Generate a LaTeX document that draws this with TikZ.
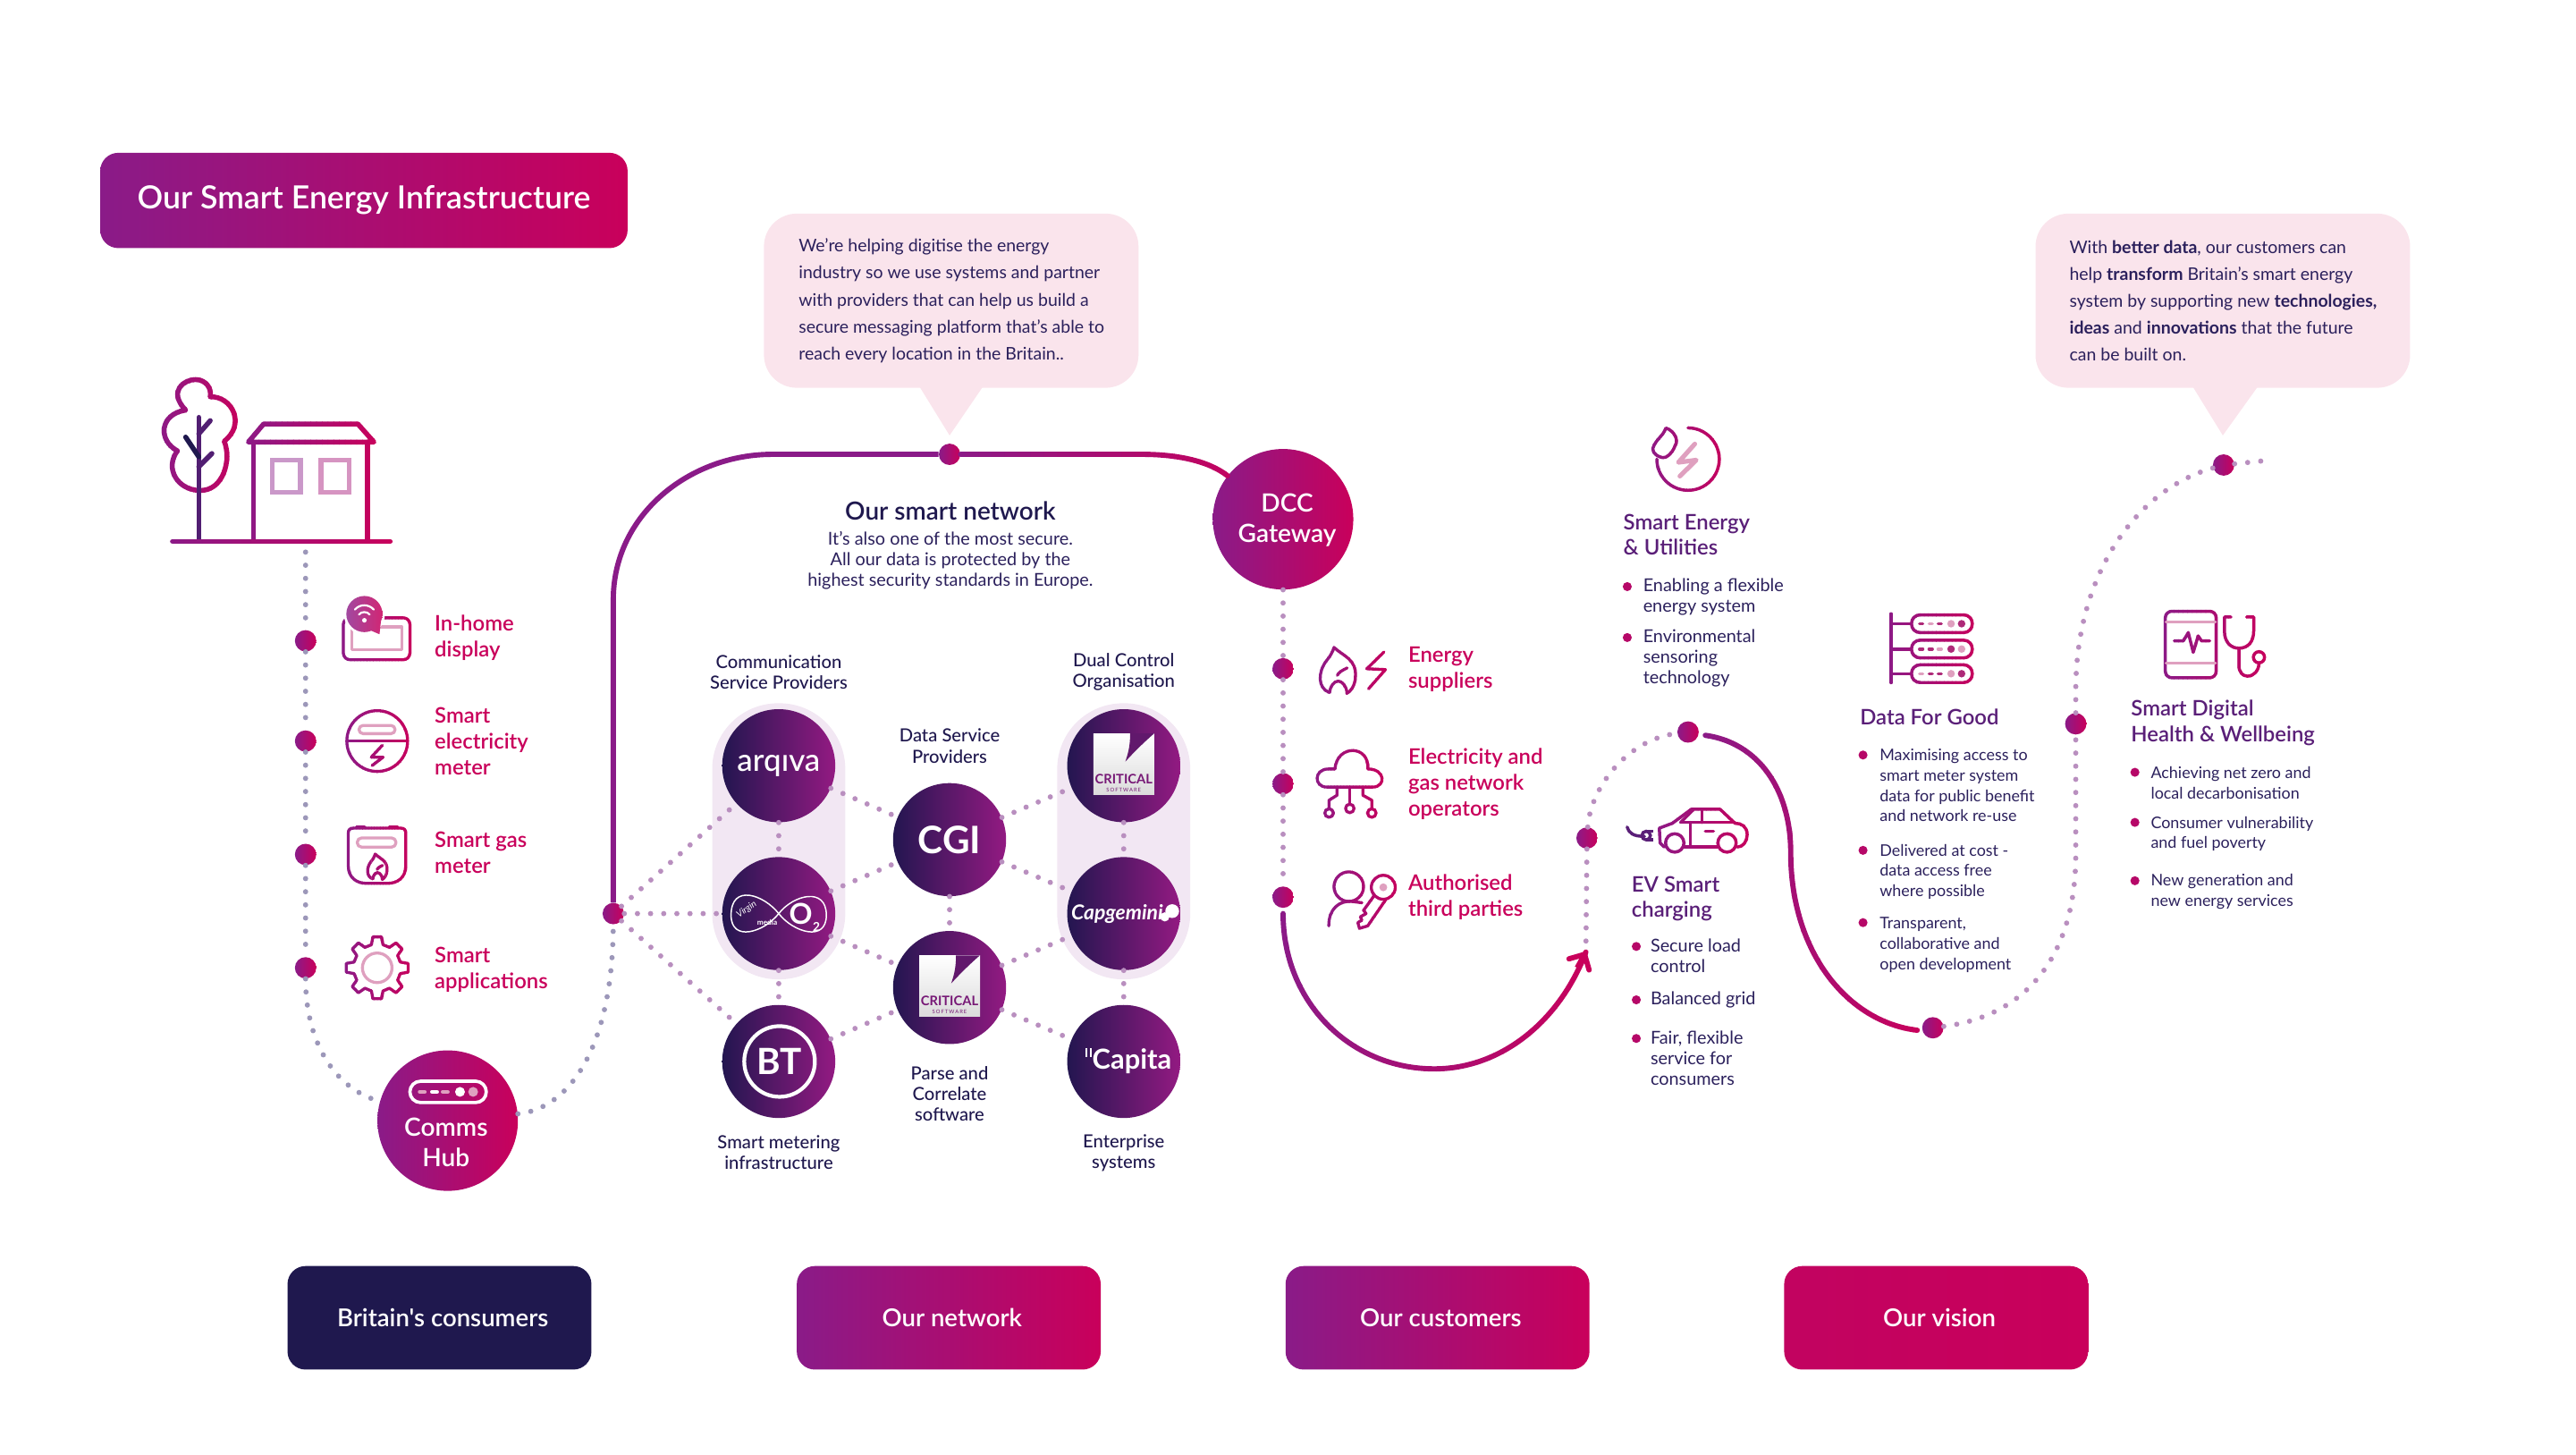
\documentclass[tikz,border=0pt]{standalone}
\usepackage{fontspec}
\setmainfont{Lato}
\newfontfamily\medfont{Lato Medium}
\newfontfamily\semifont{Lato Semibold}
\usetikzlibrary{arrows.meta}

\definecolor{gradA}{HTML}{8A1B88}
\definecolor{gradB}{HTML}{C9005B}
\definecolor{navy}{HTML}{1F184E}
\definecolor{bodyink}{HTML}{2B205C}
\definecolor{headink}{HTML}{5A1F78}
\definecolor{netdot}{HTML}{B98FBF}
\definecolor{hubdot}{HTML}{9C97B9}
\definecolor{talkpink}{HTML}{FAE4EC}
\definecolor{pilltint}{HTML}{F2E7F3}
\definecolor{logoA}{HTML}{231650}
\definecolor{logoB}{HTML}{931A82}
\definecolor{iconF}{HTML}{DFA0BF}
\definecolor{iconM}{HTML}{AE2A78}

% Stroke a path with a left-to-right colour ramp, one clipped band at a time
\newcommand{\gradpath}[4]{
  \foreach \b in {0,...,23} {
    \pgfmathsetmacro\bandl{#2+(#3-#2)*\b/24}
    \pgfmathsetmacro\bandr{#2+(#3-#2)*(\b+1)/24+.3}
    \pgfmathsetmacro\bandm{100*(\b+.5)/24}
    \begin{scope}
      \clip (\bandl,-1000) rectangle (\bandr,2000);
      \draw[line width=#1pt, line cap=round, line join=round, color=gradB!\bandm!gradA] #4;
    \end{scope}
  }
}
\newcommand{\iconrange}[3]{\def\iconW{#1}\def\iconL{#2}\def\iconR{#3}}
\newcommand{\iconpath}[1]{\gradpath{\iconW}{\iconL}{\iconR}{#1}}
\newcommand{\flameoutline}{
  \iconpath{(-4.7,13.5) .. controls (-12,11) and (-12,1) .. (-6.5,-6) .. controls (-4,-9) and (-3,-11) .. (-2,-14) .. controls (3,-9) and (12,-7) .. (11,4) .. controls (11,9) and (8,13) .. (5.8,14) .. controls (6,10) and (3,6.5) .. (0.5,6.5) .. controls (-2,6.5) and (-4.5,10) .. (-4.7,13.5)}
  \iconpath{(6,-1.5) .. controls (3,0) and (1,1) .. (0,3)}
}

\tikzset{
  gradfill/.style={left color=gradA, right color=gradB},
  pathdot/.style={circle, inner sep=0pt, minimum size=13pt, gradfill},
  bigdot/.style={circle, inner sep=0pt, minimum size=85.5pt, gradfill},
  bigtext/.style={inner sep=0pt, align=center, text=white, font=\semifont\fontsize{15.3}{18.5}\selectfont},
  logo/.style={circle, inner sep=0pt, minimum size=68.8pt, left color=logoA, right color=logoB, text=white},
  hubdots/.style={draw=hubdot, line width=3.2pt, line cap=round, dash pattern=on 0pt off 8pt},
  netdots/.style={draw=netdot, line width=3.2pt, line cap=round, dash pattern=on 0pt off 8pt},
  faintline/.style={draw=iconF, line width=1.8pt, line cap=round, line join=round},
  bar/.style={rectangle, rounded corners=11pt, minimum width=185pt, minimum height=63pt, text=white, font=\semifont\fontsize{15}{18}\selectfont},
  talk/.style={rectangle, rounded corners=20pt, fill=talkpink, minimum width=228pt, minimum height=106pt},
  talktext/.style={anchor=west, inner sep=0pt, text=bodyink, align=left, font=\fontsize{10.6}{16.35}\selectfont},
  itemlabel/.style={anchor=west, inner sep=0pt, align=left, text=gradB, font=\semifont\fontsize{13}{15.8}\selectfont},
  grouplabel/.style={inner sep=0pt, align=center, text=navy, font=\medfont\fontsize{11}{12.6}\selectfont},
  headlabel/.style={anchor=west, inner sep=0pt, align=left, text=headink, font=\semifont\fontsize{13}{15.6}\selectfont},
  listlabel/.style={anchor=west, inner sep=0pt, align=left, text=bodyink, font=\fontsize{10.8}{12.5}\selectfont},
  smalllist/.style={listlabel, font=\fontsize{9.75}{12.4}\selectfont},
  bullet/.style={circle, inner sep=0pt, minimum size=5.5pt, fill=gradB!70!gradA},
  criticalbox/.pic={
    \fill[top color=white, bottom color=black!14] (-18.5,-19.3) rectangle (18.5,17.7);
    \fill[logoB!55!logoA] (3.9,-19.6) .. controls (3.9,-10) and (2,-6) .. (1,-2.5) .. controls (6,-8) and (12,-14) .. (18.5,-19.6) -- cycle;
    \node[inner sep=0pt, text=logoB!75!logoA, font=\bfseries\fontsize{8}{8}\selectfont] (-word) at (0,8) {CRITICAL};
    \node[inner sep=0pt, text=logoB!75!logoA, font=\fontsize{3.2}{3.2}\selectfont] (-sub) at (0,14.6) {S\,O\,F\,T\,W\,A\,R\,E};
  }
}

\begin{document}
\begin{tikzpicture}[x=1pt, y=-1pt]
  \useasboundingbox (0,0) rectangle (1568,885.5);

  % Title
  \node[rectangle, rounded corners=11pt, minimum width=321pt, minimum height=58pt, gradfill, text=white, font=\semifont\fontsize{19.4}{24}\selectfont] (title) at (221.5,122) {\raisebox{-1.5pt}{Our Smart Energy Infrastructure}};

  % Callouts
  \fill[talkpink] (559.5,235) -- (598.5,235) -- (578,265) -- cycle;
  \node[talk] (talk1) at (579,183) {};
  \node[talktext] (talk1text) at (486,183) {We're helping digitise the energy\\industry so we use systems and partner\\with providers that can help us build a\\secure messaging platform that's able to\\reach every location in the Britain..};
  \fill[talkpink] (1334.5,235) -- (1374.5,235) -- (1353,265) -- cycle;
  \node[talk] (talk2) at (1353,183) {};
  \node[talktext] (talk2text) at (1259.5,183) {With \textbf{better data}, our customers can\\help \textbf{transform} Britain's smart energy\\system by supporting new \textbf{technologies,}\\\textbf{ideas} and \textbf{innovations} that the future\\can be built on.};

  % House and tree
  \gradpath{3}{96}{148}{(128,241.5) .. controls (141,241) and (150,258) .. (136.5,268.5) .. controls (141,280) and (136,298.5) .. (122,298.5) .. controls (108,298.5) and (100,285) .. (108,274.4) .. controls (96,268) and (97,252) .. (113,249.6) .. controls (102,238) and (112,231) .. (119,231) .. controls (125,231) and (129,236) .. (128,241.5)}
  \draw[headink!85!navy, line width=3pt, line cap=round] (121,254) -- (121,329);
  \draw[headink!85!navy, line width=3pt, line cap=round] (121,264) -- (128,256);
  \draw[navy, line width=3pt, line cap=round] (113,266) -- (121,278);
  \draw[headink!85!navy, line width=3pt, line cap=round] (121,284) -- (129,276);
  \gradpath{3}{147}{231}{(160.5,258) -- (217.8,258) -- (227.6,269) -- (151.2,269) -- cycle}
  \gradpath{3}{147}{231}{(154.4,269) -- (154.4,329)}
  \gradpath{3}{147}{231}{(223.8,269) -- (223.8,329)}
  \draw[gradA!45!white, line width=3pt] (165.6,280) rectangle (182.8,299.5);
  \draw[gradB!40!gradA!45!white, line width=3pt] (195.4,280) rectangle (212.6,299.5);
  \gradpath{3}{100}{241}{(105,329.5) -- (237.5,329.5)}
  \coordinate (housefoot) at (186,336);

  % Group pills and logo discs
  \fill[pilltint, rounded corners=40pt] (433.5,428) rectangle (514.5,596);
  \fill[pilltint, rounded corners=40pt] (643.5,428) rectangle (724.5,596);

  \node[logo, font=\medfont\fontsize{19}{19}\selectfont] (arqiva) at (474,466) {arqıva};
  \node[logo] (vmo) at (474,556) {};
  \node[logo] (bt) at (474,646) {};
  \node[logo, font=\bfseries\fontsize{23}{23}\selectfont] (cgi) at (578,511) {CGI};
  \node[logo] (crit2) at (578,601) {};
  \node[logo] (crit1) at (684,466) {};
  \node[logo, font=\itshape\bfseries\fontsize{12.5}{13}\selectfont] (capgemini) at (684,556) {\hspace*{-8pt}Capgemini};
  \node[logo, font=\bfseries\fontsize{16.8}{20}\selectfont] (capita) at (684,646) {\hspace*{10pt}Capita};

  % Logo details
  \draw[white, line width=.8pt] (474,556) .. controls (465,544.5) and (445,537.5) .. (445,557) .. controls (445,573.5) and (465,567.5) .. (474,556) .. controls (483,544.5) and (503,539.5) .. (503,557) .. controls (503,573.5) and (483,567.5) .. (474,556);
  \node[inner sep=0pt, text=white, rotate=35, font=\itshape\fontsize{5.5}{6}\selectfont] (virgin) at (454.5,553.5) {Virgin};
  \node[inner sep=0pt, text=white, font=\bfseries\fontsize{4.5}{5}\selectfont] (media) at (467,561.5) {media};
  \node[inner sep=0pt, text=white, font=\bfseries\fontsize{17.5}{18}\selectfont] (otwo) at (487.5,556) {O};
  \node[inner sep=0pt, text=white, font=\bfseries\fontsize{7.5}{8}\selectfont] (ottwo) at (497,564) {2};
  \draw[white, line width=2.3pt] (474.5,646) circle (21.5pt);
  \node[inner sep=0pt, text=white, font=\bfseries\fontsize{22}{22}\selectfont] (btword) at (474.5,646) {BT};
  \pic (critA) at (684,466) {criticalbox};
  \pic (critB) at (578,601) {criticalbox};
  \fill[white] (713.5,554.5) circle (4.2pt);
  \fill[white] (709,558) circle (2.8pt);
  \draw[white, line width=1.1pt] (661,638) -- (661,643.5);
  \draw[white, line width=1.1pt] (663.8,638) -- (663.8,643.5);

  % Group labels
  \node[grouplabel] (csp) at (474,409) {Communication\\Service Providers};
  \node[grouplabel] (dco) at (684,409) {Dual Control\\Organisation};
  \node[grouplabel] (dsp) at (578,454) {Data Service\\Providers};
  \node[grouplabel] (pcs) at (578,665.5) {Parse and\\Correlate\\software};
  \node[grouplabel] (smi) at (474,701.5) {Smart metering\\infrastructure};
  \node[grouplabel] (ent) at (684,701.5) {Enterprise\\systems};

  \node[inner sep=0pt, text=navy, font=\semifont\fontsize{15.2}{18}\selectfont] (nethead) at (578.5,311) {Our smart network};
  \node[inner sep=0pt, align=center, text=bodyink, font=\fontsize{10.8}{12.5}\selectfont] (netsub) at (578.5,341) {It's also one of the most secure.\\All our data is protected by the\\highest security standards in Europe.};

  % Path dots
  \foreach \n/\x/\y in {d1/186/390, d2/186/451, d3/186/520, d4/186/589, n0/373.3/556, ntop/578/276.5, c1/781/407, c2/781/477, c3/781/546, e1/966/510, e2/1027.5/445.5, e3/1176.5/625.5, e4/1263.5/440.5, e5/1353.5/283} {
    \node[pathdot] (\n) at (\x,\y) {};
  }

  % Large discs
  \node[bigdot] (hub) at (272.5,682) {};
  \node[bigtext] (hubtext) at (271.5,695.3) {Comms\\Hub};
  \node[bigdot] (dcc) at (781,316) {};
  \node[bigtext] (dcctext) at (783.5,316.5) {DCC\\Gateway};

  % Router in the hub
  \draw[white, line width=2pt, rounded corners=6.5pt] (249.5,658) rectangle (296,671);
  \draw[iconF, line width=2.4pt, line cap=round] (255.5,664.5) -- (258.5,664.5);
  \draw[white, line width=2.4pt, line cap=round] (263,664.5) -- (266,664.5);
  \draw[iconF, line width=2.4pt, line cap=round] (269.5,664.5) -- (272.5,664.5);
  \fill[white] (280,664.5) circle (3pt);
  \fill[iconF] (288,664.5) circle (3pt);

  % Dotted connectors, consumer side
  \draw[hubdots] (housefoot) -- (d1);
  \draw[hubdots] (d1) -- (d2);
  \draw[hubdots] (d2) -- (d3);
  \draw[hubdots] (d3) -- (d4);
  \draw[hubdots] (d4) .. controls (186,632) and (202,662) .. (hub);
  \draw[hubdots] (hub) .. controls (345,675) and (373,640) .. (n0);

  % Dotted connectors, network
  \foreach \a/\b in {n0/arqiva, n0/vmo, n0/bt, arqiva/vmo, vmo/bt, cgi/crit2, crit1/capgemini, capgemini/capita, arqiva/cgi, vmo/cgi, vmo/crit2, bt/crit2, cgi/crit1, cgi/capgemini, crit2/capgemini, crit2/capita} {
    \draw[netdots] (\a) -- (\b);
  }

  % Solid connectors
  \draw[line width=3.2pt, gradA] (n0) -- (373.3,365) .. controls (373.3,313) and (420,276.5) .. (470,276.5) -- (ntop);
  \gradpath{3.2}{580}{770}{(ntop) -- (695,276.5) .. controls (715,276.5) and (735,280) .. (dcc)}
  \draw[netdots] (dcc) -- (c1);
  \draw[netdots] (c1) -- (c2);
  \draw[netdots] (c2) -- (c3);
  \coordinate (tip) at (965.3,579.4);
  \coordinate (uleft) at (781,556);
  \gradpath{3.2}{776}{972}{(uleft) .. controls (781,610) and (822,650.5) .. (873,650.5) .. controls (915,650.5) and (950,620) .. (tip)}
  \draw[line width=3.2pt, gradB, -{Straight Barb[length=7pt, width=14pt, round]}] (960,589) -- (tip);
  \draw[netdots] (e1) -- (tip);
  \draw[netdots] (e1) .. controls (968,480) and (990,450) .. (e2);
  \coordinate (sstart) at (1038,447.5);
  \coordinate (send) at (1167,627);
  \gradpath{3.2}{1034}{1170}{(sstart) .. controls (1070,452) and (1090,480) .. (1090,519) .. controls (1090,580) and (1125,622) .. (send)}
  \draw[netdots] (e3) .. controls (1235,618) and (1263.5,580) .. (1263.5,520) -- (e4);
  \draw[netdots] (e4) -- (1263.5,420) .. controls (1263.5,350) and (1300,298) .. (e5);
  \coordinate (tail) at (1382,280);
  \draw[netdots] (e5) -- (tail);

  % In-home display
  \begin{scope}
    \iconrange{1.8}{206}{252}
    \iconpath{[rounded corners=4pt] (209,376) rectangle (249.5,401.5)}
    \draw[faintline] (214,381.5) rectangle (244.5,395.5);
    \fill[white] (221.8,373.7) circle (12.5pt);
    \shade[left color=gradA!80!white, right color=gradB!85!white] (221.8,373.7) circle (11pt) (224,383) -- (231,386) -- (232,377) -- cycle;
    \draw[white, line width=1.2pt, line cap=round] (216,371) .. controls (219,367.5) and (224.5,367.5) .. (227.5,371);
    \draw[white, line width=1.2pt, line cap=round] (218.5,374) .. controls (220,372) and (223.5,372) .. (225,374);
    \fill[white] (221.8,377.5) circle (1.4pt);
  \end{scope}
  \node[itemlabel] (ihd) at (264.4,388) {In-home\\display};

  % Electricity meter
  \begin{scope}
    \iconrange{1.8}{208}{251}
    \iconpath{(229.6,451) circle (18.5pt)}
    \iconpath{(211,451) -- (248,451)}
    \draw[faintline, rounded corners=2.5pt] (218.5,441.5) rectangle (240.5,446.5);
    \iconpath{(232.7,453.6) -- (226,460.8) -- (233.2,460.8) -- (226.5,465.9)}
  \end{scope}
  \node[itemlabel] (elec) at (264.4,451) {Smart\\electricity\\meter};

  % Gas meter
  \begin{scope}
    \iconrange{1.8}{208}{251}
    \iconpath{(215,504) -- (244,504) .. controls (246,504) and (247,505) .. (247,507) -- (247,527) .. controls (247,534) and (242,537.6) .. (236,537.6) -- (223,537.6) .. controls (217,537.6) and (212,534) .. (212,527) -- (212,507) .. controls (212,505) and (213,504) .. (215,504)}
    \iconpath{(217,503) -- (222,503)}
    \iconpath{(237,503) -- (242,503)}
    \draw[faintline, rounded corners=2.5pt] (217.5,510) rectangle (241,515.5);
  \end{scope}
  \begin{scope}[shift={(229.5,527.5)}, scale=.55]
    \iconrange{1.8}{-38}{38}
    \flameoutline
  \end{scope}
  \node[itemlabel] (gas) at (264.4,519) {Smart gas\\meter};

  % Gear
  \begin{scope}[shift={(229.6,589)}]
    \iconrange{1.8}{-22}{22}
    \iconpath{({14.5*cos(-14)},{14.5*sin(-14)}) \foreach \a in {0,45,...,270} { -- ({19*cos(\a-8)},{19*sin(\a-8)}) -- ({19*cos(\a+8)},{19*sin(\a+8)}) -- ({14.5*cos(\a+14)},{14.5*sin(\a+14)}) -- ({14.5*cos(\a+31)},{14.5*sin(\a+31)}) } -- ({19*cos(307)},{19*sin(307)}) -- ({19*cos(323)},{19*sin(323)}) -- ({14.5*cos(329)},{14.5*sin(329)}) -- cycle}
    \draw[faintline] (0,0) circle (9pt);
  \end{scope}
  \node[itemlabel] (apps) at (264.4,590) {Smart\\applications};

  % Energy suppliers
  \begin{scope}[shift={(814,408)}]
    \iconrange{1.8}{-14}{33}
    \flameoutline
  \end{scope}
  \begin{scope}
    \iconrange{1.8}{800}{847}
    \iconpath{(842.4,396.8) -- (832,407) -- (843.3,407.5) -- (833,419.2)}
  \end{scope}
  \node[itemlabel] (supp) at (857,407.5) {Energy\\suppliers};

  % Network operators
  \begin{scope}[shift={(821.6,477)}]
    \iconrange{1.8}{-23}{23}
    \iconpath{(-14,2) .. controls (-22,2) and (-22,-9) .. (-13,-9) -- (-9,-9) .. controls (-8,-24) and (12,-24) .. (11,-9) .. controls (22,-9) and (22,2) .. (14,2) -- cycle}
    \iconpath{(0,2) -- (0,12.5)}
    \iconpath{(-7.8,2) -- (-7.8,7) -- (-12.6,10) -- (-12.6,15)}
    \iconpath{(8,2) -- (8,7) -- (13.4,10) -- (13.4,15)}
    \iconpath{(0,15) circle (2.6pt)}
    \iconpath{(-12.6,17.8) circle (2.6pt)}
    \iconpath{(13.4,17.8) circle (2.6pt)}
  \end{scope}
  \node[itemlabel] (dno) at (857,477) {Electricity and\\gas network\\operators};

  % Third parties
  \begin{scope}
    \iconrange{1.8}{805}{853}
    \iconpath{(821,539.6) circle (9pt)}
    \iconpath{(808.8,563.5) .. controls (808.8,553) and (815,548.5) .. (822,548.5) -- (829,549.4)}
    \iconpath{(842,540) circle (7.3pt)}
    \fill[iconF] (842,540) circle (2.4pt);
    \iconpath{(836.5,545) -- (830,554) -- (831.5,556) -- (828,558) -- (829,560) -- (826.5,561.5) -- (827.5,565) -- (832.5,563.5) -- (843.5,547.5)}
  \end{scope}
  \node[itemlabel] (auth) at (857,546) {Authorised\\third parties};

  % Smart energy and utilities
  \begin{scope}
    \iconrange{1.9}{1002}{1051}
    \iconpath{(1027.5,260.4) .. controls (1038,260.4) and (1046.5,269) .. (1046.5,279.4) .. controls (1046.5,290) and (1038,298.4) .. (1027.5,298.4) .. controls (1017,298.4) and (1008.5,290) .. (1008.5,279.4)}
    \iconpath{(1006,273) .. controls (1008,267) and (1012,266) .. (1014,260.5) .. controls (1019,262) and (1022,268) .. (1019.7,271) .. controls (1018,276) and (1014,279) .. (1012,278.5) .. controls (1009,278) and (1006,276) .. (1006,273)}
    \draw[iconF, line width=2.8pt, line cap=round, line join=round] (1031.6,270.2) -- (1021.6,281.4) -- (1032.5,280) -- (1022.5,289.8);
  \end{scope}
  \node[headlabel] (seu) at (988,325.5) {Smart Energy\\\& Utilities};
  \foreach \n/\y in {sa/357, sb/388} { \node[bullet] (\n) at (990.5,\y) {}; }
  \node[listlabel] (seua) at (1000,363.5) {Enabling a flexible\\energy system};
  \node[listlabel] (seub) at (1000,400.5) {Environmental\\sensoring\\technology};

  % EV charging
  \begin{scope}
    \iconrange{1.9}{1005}{1067}
    \iconpath{(1013,515.5) -- (1010.5,513) -- (1010,504) -- (1018,501) -- (1029.5,492.5) -- (1047,492.5) -- (1056,501) .. controls (1060,501) and (1063.5,503) .. (1063.5,508) .. controls (1063.5,512) and (1061,515.5) .. (1057.5,515.5)}
    \iconpath{(1025,515.5) -- (1045.5,515.5)}
    \iconpath{(1019.4,513) circle (5.6pt)}
    \iconpath{(1051.2,513) circle (5.6pt)}
    \iconpath{(1023,500.5) -- (1030.5,493)}
    \iconpath{(1023,500.5) -- (1056,500.5)}
    \iconpath{(1036,493) -- (1036,500.5)}
    \iconpath{(1029,500.5) -- (1029,515)}
    \iconpath{(1038,506) -- (1043,506)}
    \draw[headink, line width=1.9pt, line cap=round] (990.4,503.3) .. controls (991.5,507) and (994,509) .. (1001,509);
    \draw[headink, line width=1.9pt] (1002,506) -- (1006.5,506);
    \draw[headink, line width=1.9pt] (1002,511) -- (1006.5,511);
    \draw[headink, line width=1.9pt] (1002,508.5) circle (2.6pt);
  \end{scope}
  \node[headlabel] (evs) at (993,547) {EV Smart\\charging};
  \foreach \n/\y in {va/576, vb/608.5, vc/632} { \node[bullet] (\n) at (996,\y) {}; }
  \node[listlabel] (evsa) at (1004.5,581.5) {Secure load\\control};
  \node[listlabel] (evsb) at (1004.5,608.5) {Balanced grid};
  \node[listlabel] (evsc) at (1004.5,644) {Fair, flexible\\service for\\consumers};

  % Data for good
  \begin{scope}
    \iconrange{1.9}{1147}{1205}
    \iconpath{(1151,373.5) -- (1151,415.5)}
    \foreach \y/\ca/\cb/\cc/\cd/\ce in {379.6/iconM/iconF/iconM/iconF/iconM, 395/iconM/iconM/iconF/iconM/iconF, 410/iconF/iconM/iconM/iconF/iconM} {
      \iconpath{(1151,\y) -- (1163,\y)}
      \iconpath{[rounded corners=5.2pt] (1163.5,\y-5.4) rectangle (1200.5,\y+5.4)}
      \draw[\ca, line width=1.9pt, line cap=round] (1168.4,\y) -- (1170.4,\y);
      \draw[\cb, line width=1.9pt, line cap=round] (1174.2,\y) -- (1176.2,\y);
      \draw[\cc, line width=1.9pt, line cap=round] (1179.7,\y) -- (1181.7,\y);
      \fill[\cd] (1187.6,\y) circle (2.3pt);
      \fill[\ce] (1194,\y) circle (2.3pt);
    }
  \end{scope}
  \node[headlabel] (dfg) at (1132,436.5) {Data For Good};
  \foreach \n/\y in {ga/459.5, gb/517.5, gc/561.5} { \node[bullet] (\n) at (1134,\y) {}; }
  \node[smalllist] (dfga) at (1144,478) {Maximising access to\\smart meter system\\data for public benefit\\and network re-use};
  \node[smalllist] (dfgb) at (1144,530.5) {Delivered at cost -\\data access free\\where possible};
  \node[smalllist] (dfgc) at (1144,575) {Transparent,\\collaborative and\\open development};

  % Health and wellbeing
  \begin{scope}
    \iconrange{1.9}{1315}{1381}
    \iconpath{[rounded corners=4pt] (1318,372) rectangle (1349,412.5)}
    \draw[faintline] (1318.5,378.5) -- (1348.5,378.5);
    \draw[faintline] (1318.5,403.5) -- (1348.5,403.5);
    \iconpath{(1323.5,390) -- (1329,390) -- (1332,385) -- (1335,397) -- (1338,387) -- (1340,390) -- (1345,390)}
    \iconpath{(1358,375.5) -- (1354,375.5) -- (1354,384) .. controls (1354,391) and (1358,394.5) .. (1362.8,394.5) .. controls (1368,394.5) and (1371.8,391) .. (1371.8,384) -- (1371.8,375.5) -- (1367.5,375.5)}
    \iconpath{(1362.8,394.5) -- (1362.8,405) .. controls (1362.8,409) and (1365,411.5) .. (1368,411.5) .. controls (1372,411.5) and (1375,408) .. (1375,403.5)}
    \iconpath{(1375,400) circle (3.4pt)}
  \end{scope}
  \node[headlabel] (sdh) at (1297,440) {Smart Digital\\Health \& Wellbeing};
  \foreach \n/\y in {ha/470, hb/500.5, hc/536} { \node[bullet] (\n) at (1299.5,\y) {}; }
  \node[smalllist] (sdha) at (1309,476.5) {Achieving net zero and\\local decarbonisation};
  \node[smalllist] (sdhb) at (1309,507.5) {Consumer vulnerability\\and fuel poverty};
  \node[smalllist] (sdhc) at (1309,542.5) {New generation and\\new energy services};

  % Bottom bars
  \node[bar, fill=navy] (consumers) at (267.5,802) {\hspace*{4pt}Britain's consumers};
  \node[bar, gradfill] (network) at (577.5,802) {\hspace*{4pt}Our network};
  \node[bar, gradfill] (customers) at (875,802) {\hspace*{4pt}Our customers};
  \node[bar, left color=gradB!88!gradA, right color=gradB] (vision) at (1178.5,802) {\hspace*{4pt}Our vision};
\end{tikzpicture}
\end{document}
